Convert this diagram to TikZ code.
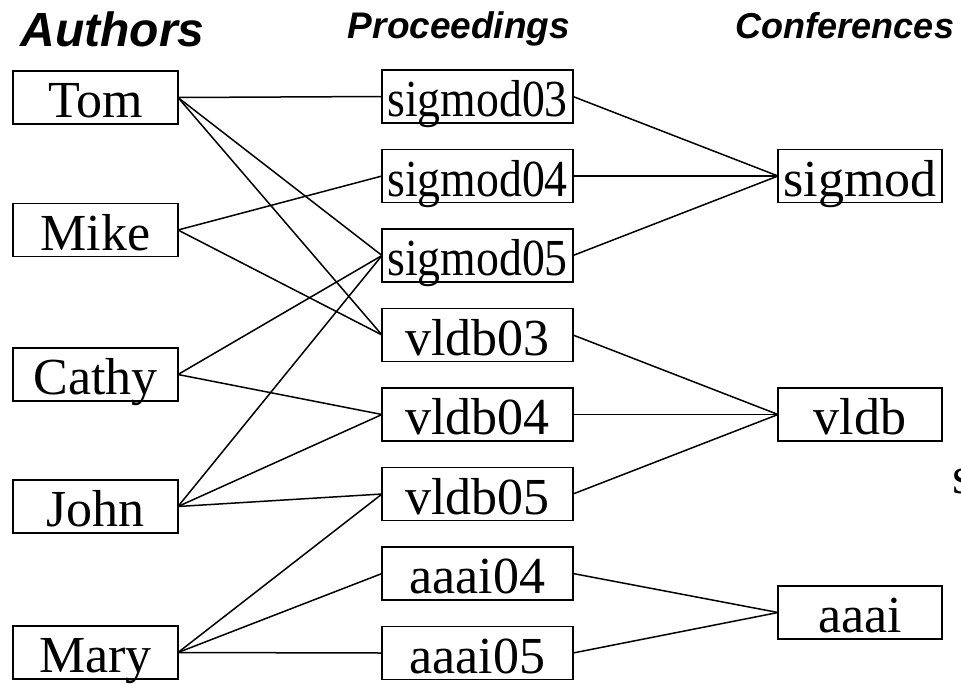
\documentclass[tikz,border=0pt]{standalone}
\usepackage{fontspec}
\setmainfont{Liberation Serif}
\setsansfont{Liberation Sans}
\usepackage{graphicx}
\usepackage{tikz}
\usetikzlibrary{positioning}

\newcommand{\narrow}[1]{\scalebox{0.88}[1]{#1}}

\begin{document}
\begin{tikzpicture}[
  x=1pt, y=-1pt,
  node distance=26.5pt and 205pt,
  item/.style={
    rectangle, draw=black, line width=1.5pt,
    inner sep=0pt, outer sep=0pt,
    minimum height=53pt,
    text height=40pt, text depth=0pt,
    font=\fontsize{52}{52}\selectfont
  },
  author/.style={item, minimum width=165pt},
  proc/.style={item, minimum width=191pt},
  conf/.style={item, minimum width=164pt},
  head/.style={anchor=base, inner sep=0pt,
    font=\fontsize{#1}{#1}\selectfont\sffamily\bfseries\itshape},
  link/.style={line width=1.5pt}
]
\useasboundingbox (0,0) rectangle (961,683);

% column titles
\node[head=48] (hauth) at (112.5,46) {Authors};
\node[head=37] (hproc) at (459,38) {Proceedings};
\node[head=36] (hconf) at (845,38) {Conferences};

% authors
\node[author] (tom)   at (95.5,97.5)  {Tom};
\node[author] (mike)  at (95.5,230)   {Mike};
\node[author] (cathy) at (95.5,374.5) {Cathy};
\node[author] (john)  at (95.5,506.5) {John};
\node[author] (mary)  at (95.5,652.5) {Mary};

% proceedings
\node[proc] (sigmod03) at (477.5,96.5) {\narrow{sigmod03}};
\node[proc, below=of sigmod03] (sigmod04) {\narrow{sigmod04}};
\node[proc, below=of sigmod04] (sigmod05) {\narrow{sigmod05}};
\node[proc, below=of sigmod05] (vldb03) {vldb03};
\node[proc, below=of vldb03]   (vldb04) {vldb04};
\node[proc, below=of vldb04]   (vldb05) {vldb05};
\node[proc, below=of vldb05]   (aaai04) {aaai04};
\node[proc, below=of aaai04]   (aaai05) {aaai05};

% conferences
\node[conf, right=of sigmod04] (sigmod) {sigmod};
\node[conf, right=of vldb04]   (vldb)   {vldb};
\node[conf, below=145pt of vldb] (aaai) {aaai};

% cut-off text at the right edge
\node[anchor=base west, inner sep=0pt, font=\fontsize{52}{52}\selectfont]
  (cut) at (952,493) {s};

% author -- proceedings
\draw[link] (tom.east) -- (sigmod03.west);
\draw[link] (tom.east) -- (sigmod05.west);
\draw[link] (tom.east) -- (vldb03.west);
\draw[link] (mike.east) -- (sigmod04.west);
\draw[link] (mike.east) -- (vldb03.west);
\draw[link] (cathy.east) -- (sigmod05.west);
\draw[link] (cathy.east) -- (vldb04.west);
\draw[link] (john.east) -- (sigmod05.west);
\draw[link] (john.east) -- (vldb04.west);
\draw[link] (john.east) -- (vldb05.west);
\draw[link] (mary.east) -- (vldb05.west);
\draw[link] (mary.east) -- (aaai04.west);
\draw[link] (mary.east) -- (aaai05.west);

% proceedings -- conferences
\draw[link] (sigmod03.east) -- (sigmod.west);
\draw[link] (sigmod04.east) -- (sigmod.west);
\draw[link] (sigmod05.east) -- (sigmod.west);
\draw[link] (vldb03.east) -- (vldb.west);
\draw[link] (vldb04.east) -- (vldb.west);
\draw[link] (vldb05.east) -- (vldb.west);
\draw[link] (aaai04.east) -- (aaai.west);
\draw[link] (aaai05.east) -- (aaai.west);

\end{tikzpicture}
\end{document}
